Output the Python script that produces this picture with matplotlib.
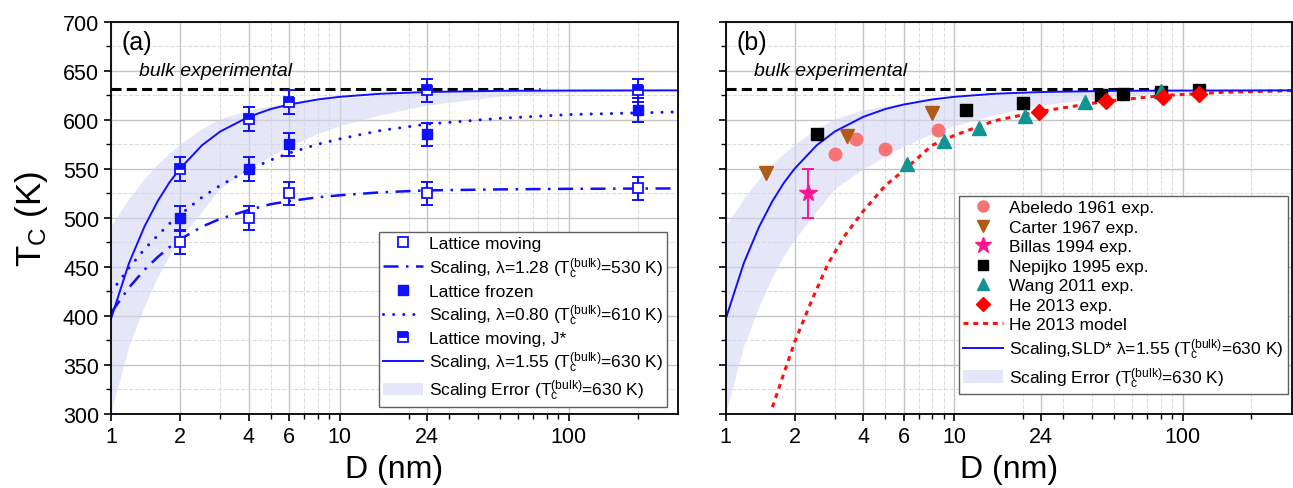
import numpy as np
import matplotlib.pyplot as plt
from matplotlib.patches import Patch
from matplotlib.lines import Line2D
from matplotlib.ticker import FixedLocator, FixedFormatter, NullFormatter

plt.rcParams['font.family'] = ['Liberation Sans', 'DejaVu Sans']
plt.rcParams['mathtext.fontset'] = 'custom'
plt.rcParams['mathtext.rm'] = 'Liberation Sans'
plt.rcParams['mathtext.it'] = 'Liberation Sans:italic'

# ---- panel (a): simulation points
D_sim = [2, 4, 6, 24, 200]
Tc_moving = [475, 500, 525, 525, 530]
Tc_frozen = [500, 550, 575, 585, 610]
Tc_jstar = [550, 601, 618, 630, 630]
Tc_err = [12, 12, 12, 12, 12]

# ---- scaling curves
D_curve = [1, 1.2, 1.4, 1.6, 1.8, 2, 2.5, 3, 4, 5, 6, 8, 10, 15, 24, 50, 100, 300]
Tc_scal_155 = [397, 454, 491, 517, 536, 550, 574, 588, 603, 611, 615.5, 620.7, 623.4, 626.5, 628.3, 629.5, 629.8, 630]
Tc_scal_080 = [424, 449, 468, 482, 494, 503, 521, 533, 549, 559, 566, 575, 580.5, 589, 595.5, 601.5, 605.3, 608]
Tc_scal_128 = [403, 429, 447, 460, 470, 478, 491, 499, 508, 514, 517, 521, 523, 526, 528, 529, 529.6, 530]
band_upper = [492, 520, 540, 555, 566, 575, 591, 601, 610, 614, 617, 620, 622, 625, 628, 630, 630, 630]
band_lower = [302, 370, 410, 440, 462, 478, 507, 530, 550, 563, 573, 586, 594, 605, 615, 624, 628, 630]

D_bulk = [1, 75]
Tc_bulk = [631, 631]

# ---- panel (b): experiments
D_abeledo = [3.0, 3.7, 5.0, 8.5]
Tc_abeledo = [565, 580, 570, 590]
D_carter = [1.5, 3.4, 8.0]
Tc_carter = [546, 583, 607]
D_billas = [2.28]
Tc_billas = [525]
err_billas = [25]
D_nepijko = [2.5, 11.3, 20, 44, 55, 80, 118]
Tc_nepijko = [585, 610, 617, 625, 626.5, 628.5, 630]
D_wang = [6.2, 9.0, 12.9, 20.5, 37.5, 80]
Tc_wang = [555, 578, 592, 604, 618.5, 629]
D_he = [23.5, 46, 82, 118]
Tc_he = [608, 619, 623.5, 626]
D_he_model = [1.6, 1.8, 2.0, 2.4, 2.8, 3.3, 4.0, 5.0, 6.2, 8.0, 10, 15, 23, 45, 80, 150, 300]
Tc_he_model = [307, 342, 373, 418, 453, 481, 507, 533, 551, 574, 584, 599, 608, 618.5, 624.5, 628, 629.7]

x_major = [1, 2, 4, 6, 10, 24, 100]
x_minor = [3, 5, 7, 8, 9, 20, 30, 40, 50, 60, 70, 80, 90, 200]

blue = '#1010ff'
band_col = '#d6d6f6'


def style(ax):
    ax.set_xscale('log')
    ax.set_xlim(1, 300)
    ax.set_ylim(300, 700)
    ax.xaxis.set_major_locator(FixedLocator(x_major))
    ax.xaxis.set_major_formatter(FixedFormatter([str(v) for v in x_major]))
    ax.xaxis.set_minor_locator(FixedLocator(x_minor))
    ax.xaxis.set_minor_formatter(NullFormatter())
    ax.set_yticks(np.arange(300, 701, 50))
    ax.set_yticks(np.arange(325, 700, 50), minor=True)
    ax.grid(which='major', color='#c4c4c4', lw=1.0, ls='-')
    ax.grid(which='minor', color='#dcdcdc', lw=0.8, ls='--')
    ax.set_axisbelow(True)
    ax.tick_params(which='both', direction='out', top=False, right=False, labelsize=15.5)
    ax.tick_params(which='major', length=5, width=1.2)
    ax.tick_params(which='minor', length=3.5, width=1.0)
    for s in ax.spines.values():
        s.set_linewidth(1.3)
    ax.set_xlabel('D (nm)', fontsize=23, labelpad=5)
    ax.fill_between(D_curve, band_lower, band_upper, color=band_col, alpha=0.6, lw=0)
    ax.plot(D_bulk, Tc_bulk, color='black', lw=2.2, ls=(0, (3.3, 1.7)))
    ax.text(1.33, 650, 'bulk experimental', fontsize=14, style='italic', va='center')


fig = plt.figure(figsize=(12.93, 4.89), dpi=100)
ax1 = fig.add_axes([0.0858, 0.1513, 0.4385, 0.8023])
ax2 = fig.add_axes([0.5613, 0.1513, 0.4377, 0.8023])

# ---------------- (a)
style(ax1)
ax1.set_ylabel(r'T$_\mathregular{C}$ (K)', fontsize=25, labelpad=9)
ax1.text(1.115, 679, '(a)', fontsize=18, va='center')

ax1.plot(D_curve, Tc_scal_128, color=blue, lw=1.8, ls=(0, (6, 3, 1, 3)))
ax1.plot(D_curve, Tc_scal_080, color=blue, lw=2.2, ls=(0, (0.01, 3.3)), dash_capstyle='round')
ax1.plot(D_curve, Tc_scal_155, color=blue, lw=1.4)

eb = dict(fmt='none', ecolor=blue, elinewidth=1.4, capsize=4, capthick=1.4)
ax1.errorbar(D_sim, Tc_moving, yerr=Tc_err, **eb)
ax1.errorbar(D_sim, Tc_frozen, yerr=Tc_err, **eb)
ax1.errorbar(D_sim, Tc_jstar, yerr=Tc_err, **eb)
ax1.plot(D_sim, Tc_frozen, 's', color=blue, ms=7.5, mec=blue)
ax1.plot(D_sim, Tc_jstar, 's', color=blue, ms=7.5, mec=blue, fillstyle='top', markerfacecoloralt='white', mew=1.3)
ax1.plot(D_sim, Tc_moving, 's', color=blue, ms=7.5, mfc='white', mec=blue, mew=1.3)

lab = r'Scaling, λ=%s (T$_\mathregular{c}^\mathregular{(bulk)}$=%d K)'
h_a = [
    Line2D([], [], ls='none', marker='s', ms=7, mfc='white', mec=blue, mew=1.3),
    Line2D([], [], color=blue, lw=1.8, ls=(0, (6, 3, 1, 3))),
    Line2D([], [], ls='none', marker='s', ms=7, color=blue),
    Line2D([], [], color=blue, lw=2.2, ls=(0, (0.01, 3.3)), dash_capstyle='round'),
    Line2D([], [], ls='none', marker='s', ms=7, color=blue, fillstyle='top', markerfacecoloralt='white', mew=1.3),
    Line2D([], [], color=blue, lw=1.4),
    Patch(facecolor=band_col, alpha=0.6, lw=0),
]
l_a = ['Lattice moving', lab % ('1.28', 530), 'Lattice frozen', lab % ('0.80', 610),
       'Lattice moving, J*', lab % ('1.55', 630), r'Scaling Error (T$_\mathregular{c}^\mathregular{(bulk)}$=630 K)']
ax1.legend(h_a, l_a, loc='lower right', bbox_to_anchor=(0.981, 0.019), borderaxespad=0,
           fontsize=12.5, fancybox=False, edgecolor='#606060', framealpha=1, handlelength=2.3,
           handletextpad=0.35, labelspacing=0.22, borderpad=0.25)

# ---------------- (b)
style(ax2)
ax2.tick_params(labelleft=False)
ax2.text(1.115, 679, '(b)', fontsize=18, va='center')

ax2.plot(D_he_model, Tc_he_model, color='#ff1010', lw=2.2, ls=(0, (1.6, 1.6)))
ax2.plot(D_curve, Tc_scal_155, color=blue, lw=1.4)
ax2.errorbar(D_billas, Tc_billas, yerr=err_billas, fmt='none', ecolor='#ff1493', elinewidth=1.4,
             capsize=4, capthick=1.4)

mk = [
    (D_abeledo, Tc_abeledo, 'o', '#f87474', 9, 'Abeledo 1961 exp.'),
    (D_carter, Tc_carter, 'v', '#b05a14', 10, 'Carter 1967 exp.'),
    (D_billas, Tc_billas, '*', '#ff1493', 13, 'Billas 1994 exp.'),
    (D_nepijko, Tc_nepijko, 's', 'black', 8, 'Nepijko 1995 exp.'),
    (D_wang, Tc_wang, '^', '#129494', 10, 'Wang 2011 exp.'),
    (D_he, Tc_he, 'D', '#ff0000', 8, 'He 2013 exp.'),
]
h_b = []
l_b = []
for d, t, m, c, s, name in mk:
    ax2.plot(d, t, m, color=c, ms=s, mec=c)
    h_b.append(Line2D([], [], ls='none', marker=m, color=c, ms=s - 1))
    l_b.append(name)
h_b += [Line2D([], [], color='#ff1010', lw=2.2, ls=(0, (1.6, 1.6))),
        Line2D([], [], color=blue, lw=1.4),
        Patch(facecolor=band_col, alpha=0.6, lw=0)]
l_b += ['He 2013 model', r'Scaling,SLD* λ=1.55 (T$_\mathregular{c}^\mathregular{(bulk)}$=630 K)',
        r'Scaling Error (T$_\mathregular{c}^\mathregular{(bulk)}$=630 K)']
ax2.legend(h_b, l_b, loc='lower right', bbox_to_anchor=(0.9935, 0.051), borderaxespad=0,
           fontsize=12.5, fancybox=False, edgecolor='#606060', framealpha=1, handlelength=2.3,
           handletextpad=0.35, labelspacing=0.25, borderpad=0.25)

fig.savefig('out.png', dpi=100)
